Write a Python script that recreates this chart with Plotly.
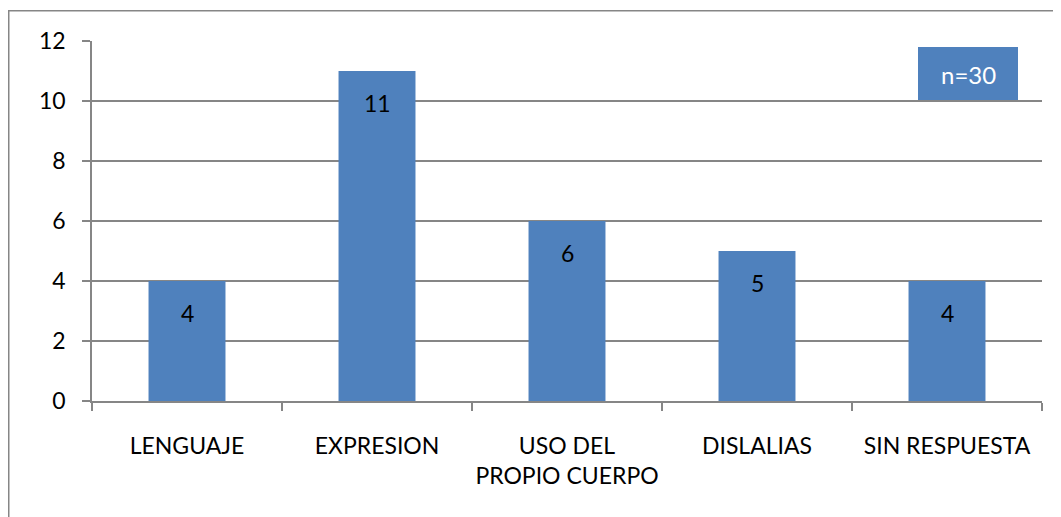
import plotly.graph_objects as go

categories = ["LENGUAJE", "EXPRESION", "USO DEL<br>PROPIO CUERPO", "DISLALIAS", "SIN RESPUESTA"]
values = [4, 11, 6, 5, 4]
y_ticks = [0, 2, 4, 6, 8, 10, 12]
note_text = "n=30"

BAR = "#4F81BD"
GRID = "#868686"
FONT = "Lato, sans-serif"

OFF = 8  # page body margin
W, H = 1061, 517
L, T = 92 - OFF, 41 - OFF
R = W - (1042 - OFF)
B = H - (401 - OFF)
pw, ph = W - L - R, H - T - B
def px(x): return (x - OFF - L) / pw
def py(y): return (H - B - (y - OFF)) / ph

fig = go.Figure()
fig.add_trace(go.Bar(x=categories, y=values, marker=dict(color=BAR, line=dict(width=0)),
                     width=0.405, hoverinfo="skip"))

for c, v in zip(categories, values):
    fig.add_annotation(x=c, y=v, text=str(v), showarrow=False, yshift=-32,
                       xanchor="center", yanchor="middle",
                       font=dict(size=23, color="black", family=FONT))

# outer frame
fig.add_shape(type="rect", xref="paper", yref="paper", x0=px(8.75), x1=px(1090), y0=py(540), y1=py(10.75),
              line=dict(color=GRID, width=1.5), fillcolor="rgba(0,0,0,0)", layer="below")
# n=30 box
fig.add_shape(type="rect", xref="paper", yref="paper", x0=px(918), x1=px(1018), y0=py(100), y1=py(47),
              line=dict(width=0), fillcolor=BAR)
fig.add_annotation(xref="paper", yref="paper", x=px(968), y=py(74), text=note_text, showarrow=False,
                   xanchor="center", yanchor="middle",
                   font=dict(size=24, color="white", family=FONT))

fig.update_layout(
    width=W, height=H, margin=dict(l=L, r=R, t=T, b=B),
    paper_bgcolor="white", plot_bgcolor="white", showlegend=False,
    font=dict(family=FONT, color="black"),
    xaxis=dict(type="category", tickson="boundaries", ticks="outside", ticklen=8, tickcolor=GRID,
               tickwidth=1.5, showline=True, linecolor=GRID, linewidth=1.5, showgrid=False,
               tickfont=dict(size=23, family=FONT), ticklabelstandoff=24, tickangle=0),
    yaxis=dict(range=[0, 12], tickvals=y_ticks, ticks="outside", ticklen=8, tickcolor=GRID, tickwidth=1.5,
               showline=True, linecolor=GRID, linewidth=1.5, showgrid=True, gridcolor=GRID, gridwidth=1.5,
               zeroline=False, tickfont=dict(size=23, family=FONT), ticklabelstandoff=12),
)

fig.write_html("out.html")
